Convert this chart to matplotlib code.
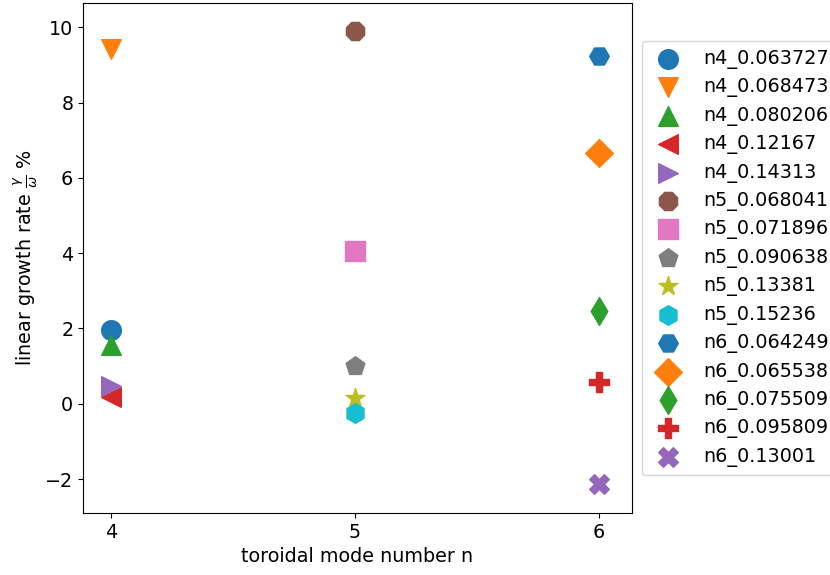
import numpy as np
import matplotlib
matplotlib.use("Agg")
import matplotlib.pyplot as plt

# toroidal mode number of each case
mode_n = [4, 4, 4, 4, 4, 5, 5, 5, 5, 5, 6, 6, 6, 6, 6]
# linear growth rate gamma/omega in %
growth = [1.97, 9.43, 1.57, 0.19, 0.46,
          9.91, 4.05, 0.99, 0.15, -0.25,
          9.23, 6.65, 2.47, 0.57, -2.13]
labels = ["n4_0.063727", "n4_0.068473", "n4_0.080206", "n4_0.12167", "n4_0.14313",
          "n5_0.068041", "n5_0.071896", "n5_0.090638", "n5_0.13381", "n5_0.15236",
          "n6_0.064249", "n6_0.065538", "n6_0.075509", "n6_0.095809", "n6_0.13001"]
markers = ["o", "v", "^", "<", ">", "8", "s", "p", "*", "h", "H", "D", "d", "P", "X"]
n_ticks = [4, 5, 6]

fs = 13.8
fig = plt.figure(figsize=(8.3, 5.75), dpi=100)
ax = fig.add_axes([0.1, 0.108, 0.6614, 0.887])

for i in range(len(labels)):
    ax.scatter(mode_n[i], growth[i], s=200, marker=markers[i],
               color="C%d" % (i % 10), label=labels[i])

ax.set_xlim(3.885, 6.135)
ax.set_ylim(-2.9, 10.65)
ax.set_xticks(n_ticks)
ax.tick_params(labelsize=fs)
ax.set_xlabel("toroidal mode number n", fontsize=fs)
ax.set_ylabel(r"linear growth rate $\frac{\gamma}{\omega}$ %", fontsize=fs)

ax.legend(loc="center left", bbox_to_anchor=(1.0, 0.5), fontsize=fs,
          labelspacing=0.44)

fig.savefig("out.png", dpi=100)
